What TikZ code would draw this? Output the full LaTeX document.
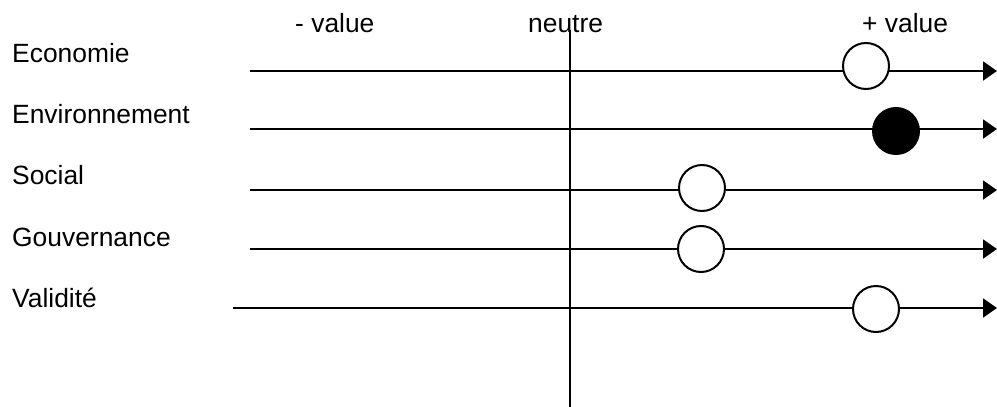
\documentclass[tikz,border=0pt]{standalone}
\usepackage{fontspec}
\setmainfont{Liberation Sans}
\usetikzlibrary{arrows.meta}
\begin{document}
\begin{tikzpicture}[x=1pt,y=-1pt,
  lbl/.style={anchor=base west,inner sep=0pt,font=\fontsize{26.4}{31}\selectfont},
  axisline/.style={line width=2pt},
  arrowline/.style={line width=2pt,-{Triangle[length=14pt,width=19pt]}},
  dot/.style={circle,draw,line width=2pt,fill=white,minimum size=46pt,inner sep=0pt},
  fulldot/.style={dot,fill=black}]
\useasboundingbox (0,0) rectangle (997,407);
% labels
\node[lbl] (eco) at (12,62) {Economie};
\node[lbl] (env) at (12,123) {Environnement};
\node[lbl] (soc) at (12,184) {Social};
\node[lbl] (gov) at (12,246) {Gouvernance};
\node[lbl] (val) at (12,307) {Validité};
\node[lbl] (minus) at (295,32) {- value};
\node[lbl] (neu) at (528,32) {neutre};
\node[lbl] (plus) at (862,32) {+ value};
% vertical axis
\coordinate (vt) at (570,30);
\coordinate (vb) at (570,407);
\draw[axisline] (vt) -- (vb);
% rows
\coordinate (s1) at (250,71);  \coordinate (e1) at (997,71);
\coordinate (s2) at (250,129); \coordinate (e2) at (997,129);
\coordinate (s3) at (250,190); \coordinate (e3) at (997,190);
\coordinate (s4) at (250,249); \coordinate (e4) at (997,249);
\coordinate (s5) at (233,308); \coordinate (e5) at (997,308);
\draw[arrowline] (s1) -- (e1);
\draw[arrowline] (s2) -- (e2);
\draw[arrowline] (s3) -- (e3);
\draw[arrowline] (s4) -- (e4);
\draw[arrowline] (s5) -- (e5);
\node[dot] (c1) at (866,66) {};
\node[fulldot] (c2) at (896,131) {};
\node[dot] (c3) at (702,188) {};
\node[dot] (c4) at (701,249) {};
\node[dot] (c5) at (876,309) {};
\end{tikzpicture}
\end{document}
